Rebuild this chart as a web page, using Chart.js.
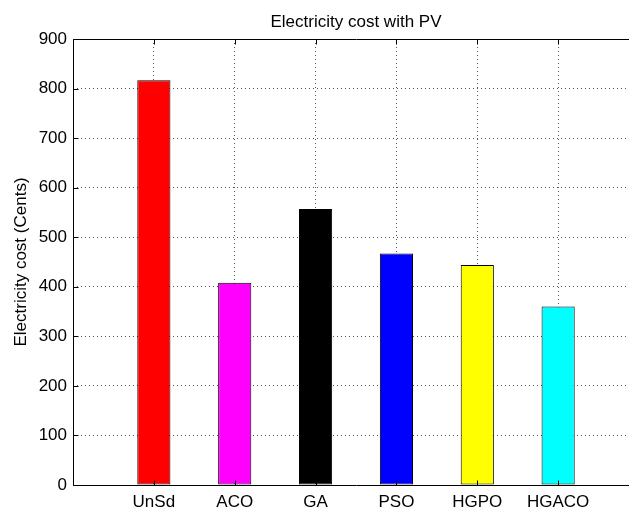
<!DOCTYPE html>
<html>
<head>
<meta charset="utf-8">
<script src="https://cdn.jsdelivr.net/npm/chart.js@4/dist/chart.umd.min.js"></script>
<style>
  body { margin: 0; background: #fff; overflow: hidden; }
  #wrap { width: 629px; height: 510px; overflow: hidden; position: relative; }
  #myChart { display: block; }
</style>
</head>
<body>
<div id="wrap"><canvas id="myChart" width="680" height="510"></canvas></div>
<script>
// data
var categories = ["UnSd", "ACO", "GA", "PSO", "HGPO", "HGACO"];
var costValues = [817, 408, 557, 467, 444, 360];
var barColors = ["#ff0000", "#ff00ff", "#000000", "#0000ff", "#ffff00", "#00ffff"];
var yTicks = [0, 100, 200, 300, 400, 500, 600, 700, 800, 900];

var fontFamily = "'Liberation Sans', Arial, Helvetica, sans-serif";

// matlab style axes lines + inward tick marks + title
var matlabBox = {
  id: "matlabBox",
  afterDraw: function (chart) {
    var c = chart.ctx, a = chart.chartArea;
    var xs = chart.scales.x, ys = chart.scales.y;
    var L = Math.round(a.left) + 0.5, T = Math.round(a.top) + 0.5;
    var R = Math.round(a.right) + 0.5, B = Math.round(a.bottom) + 0.5;
    c.save();
    c.strokeStyle = "#000";
    c.lineWidth = 1;
    c.beginPath();
    xs.ticks.forEach(function (t) {
      var px = Math.round(xs.getPixelForValue(t.value)) + 0.5;
      c.moveTo(px, B); c.lineTo(px, B - 5);
      c.moveTo(px, T); c.lineTo(px, T + 5);
    });
    ys.ticks.forEach(function (t) {
      var py = Math.round(ys.getPixelForValue(t.value)) + 0.5;
      c.moveTo(L, py); c.lineTo(L + 5, py);
    });
    // top, left, bottom edges (right edge lies outside the picture)
    c.moveTo(R, T); c.lineTo(L, T); c.lineTo(L, B); c.lineTo(R, B);
    c.stroke();
    c.fillStyle = "#000";
    c.font = "17px " + fontFamily;
    c.textAlign = "center";
    c.textBaseline = "middle";
    c.fillText("Electricity cost with PV", (a.left + a.right) / 2, 22);
    c.restore();
  }
};

var ctx = document.getElementById("myChart");
var config = {
  type: "bar",
  data: {
    datasets: [
      {
        data: categories.map(function (name, i) { return { x: i + 1, y: costValues[i] }; }),
        backgroundColor: barColors,
        borderColor: "#000",
        borderWidth: 1,
        borderSkipped: false,
        barPercentage: 0.41,
        categoryPercentage: 1.0,
      },
    ],
  },
  options: {
    responsive: false,
    animation: false,
    devicePixelRatio: 1,
    layout: { padding: { left: 0, top: 39, right: 41, bottom: 0 } },
    plugins: {
      legend: { display: false },
      tooltip: { enabled: false },
      title: { display: false },
    },
    scales: {
      x: {
        type: "linear",
        min: 0,
        max: 7,
        offset: false,
        afterBuildTicks: function (scale) {
          scale.ticks = categories.map(function (n, i) { return { value: i + 1 }; });
        },
        afterFit: function (scale) { scale.height = 25; },
        ticks: {
          padding: 7,
          color: "#000",
          font: { family: fontFamily, size: 17 },
          maxRotation: 0,
          autoSkip: false,
          callback: function (v) { return categories[v - 1]; },
        },
        grid: {
          offset: false,
          drawTicks: false,
          color: "#555",
          lineWidth: 1,
        },
        border: { display: false, dash: [1, 3] },
      },
      y: {
        min: 0,
        max: 900,
        afterBuildTicks: function (scale) {
          scale.ticks = yTicks.map(function (v) { return { value: v }; });
        },
        afterFit: function (scale) { scale.width = 73; },
        ticks: {
          padding: 6,
          color: "#000",
          font: { family: fontFamily, size: 17 },
        },
        grid: {
          drawTicks: false,
          color: "#555",
          lineWidth: 1,
        },
        border: { display: false, dash: [1, 3] },
        title: {
          display: true,
          text: "Electricity cost (Cents)",
          color: "#000",
          font: { family: fontFamily, size: 17 },
          padding: { top: 11, bottom: 0 },
        },
      },
    },
  },
  plugins: [matlabBox],
};

var myBarChart = new Chart(ctx, config);
</script>
</body>
</html>
